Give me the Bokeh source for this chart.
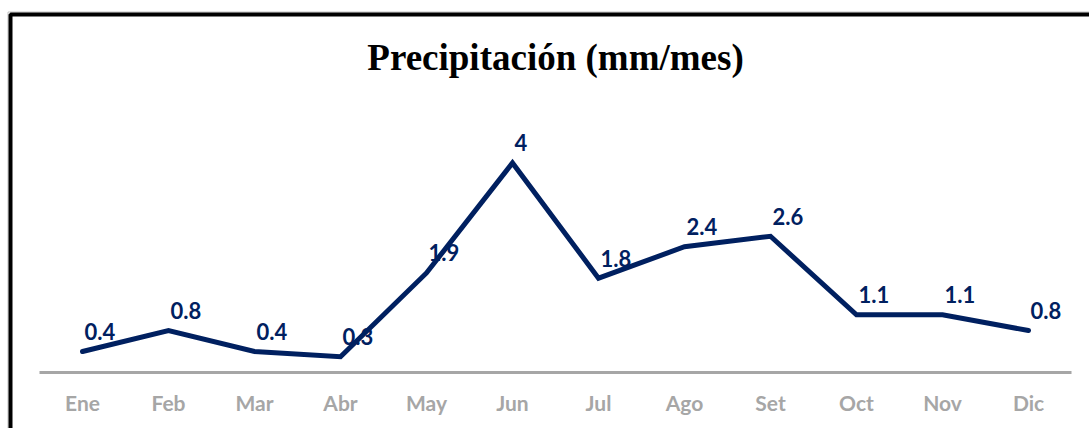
from bokeh.plotting import figure
from bokeh.models import ColumnDataSource, Range1d, Label
from bokeh.core.properties import value
from bokeh.embed import file_html
from bokeh.resources import INLINE

months = ["Ene", "Feb", "Mar", "Abr", "May", "Jun", "Jul", "Ago", "Set", "Oct", "Nov", "Dic"]
precip = [0.4, 0.8, 0.4, 0.3, 1.9, 4, 1.8, 2.4, 2.6, 1.1, 1.1, 0.8]
labels = [f"{v:g}" for v in precip]
title_text = "Precipitación (mm/mes)"

NAVY = "#002060"
GREY = "#A6A6A6"

# category slot centres (one unit per month)
xpos = [i + 0.5 for i in range(len(months))]
src = ColumnDataSource(dict(x=xpos, month=months, precip=precip, label=labels,
                            zero=[0] * len(months)))

W, H = 1089, 428
PX_X, PX_Y = 86.0, 52.4          # pixels per unit
X0_PX, Y0_PX = 39.0, 372.0       # pixel of x=0 and y=0


def dx(px):
    return (px - X0_PX) / PX_X


def dy(py):
    return (Y0_PX - py) / PX_Y


p = figure(
    width=W, height=H,
    x_range=Range1d(dx(0), dx(W)),
    y_range=Range1d(dy(H), dy(0)),
    output_backend="svg", toolbar_location=None,
    x_axis_location=None, y_axis_location=None,
    min_border=0,
)
p.outline_line_color = None
p.grid.visible = False
p.background_fill_color = "white"
p.border_fill_color = "white"

# border of the chart area (only its top-left corner is in view)
p.quad(left=dx(7.5), right=dx(W + 40), top=dy(11.5), bottom=dy(H + 40),
       fill_color=None, line_color="#C0C0C0", line_width=1)
p.quad(left=dx(10), right=dx(W + 40), top=dy(14), bottom=dy(H + 40),
       fill_color=None, line_color="black", line_width=4)

# category axis line and labels
p.segment(x0=0, x1=len(months), y0=0, y1=0, line_color=GREY, line_width=3)
p.text(x="x", y="zero", text="month", source=src, y_offset=30,
       text_align="center", text_baseline="middle",
       text_font=value("Lato"), text_font_style="bold", text_font_size="21px",
       text_color=GREY)

p.line(x="x", y="precip", source=src, line_color=NAVY, line_width=5,
       line_join="miter", line_cap="round")
p.text(x="x", y="precip", text="label", source=src,
       x_offset=2, y_offset=-20, text_align="left", text_baseline="alphabetic",
       text_font=value("Lato"), text_font_style="bold", text_font_size="22px",
       text_color=NAVY)

p.add_layout(Label(x=len(months) / 2, y=dy(57), text=title_text,
                   text_align="center", text_baseline="alphabetic",
                   text_font="Liberation Serif", text_font_style="bold",
                   text_font_size="37px", text_color="black"))

open("out.html", "w").write(file_html(p, INLINE))
